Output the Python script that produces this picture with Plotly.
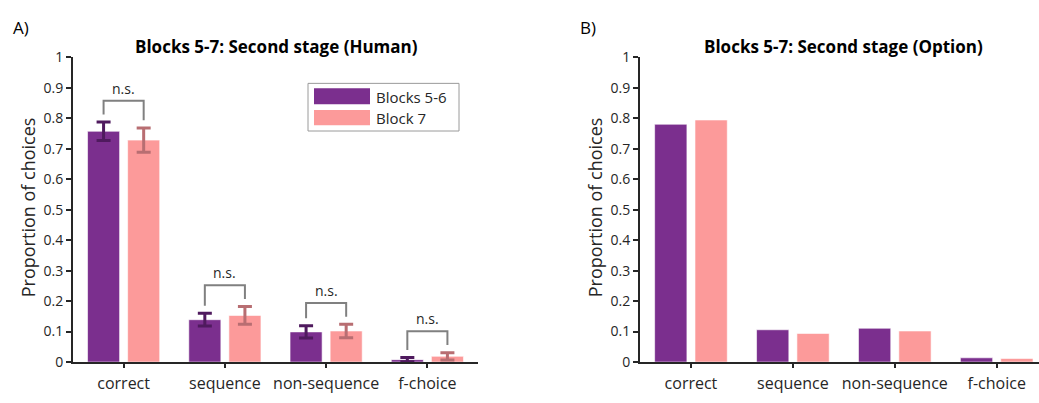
import plotly.graph_objects as go

# ---------------- data ----------------
categories = ["correct", "sequence", "non-sequence", "f-choice"]
series_names = ["Blocks 5-6", "Block 7"]

human_b56 = [0.757, 0.139, 0.099, 0.008]
human_b56_err = [0.030, 0.021, 0.020, 0.007]
human_b7 = [0.728, 0.153, 0.102, 0.019]
human_b7_err = [0.040, 0.029, 0.022, 0.012]

option_b56 = [0.780, 0.106, 0.111, 0.014]
option_b7 = [0.794, 0.094, 0.102, 0.012]

sig_labels = ["n.s.", "n.s.", "n.s.", "n.s."]

y_ticks = [0, 0.1, 0.2, 0.3, 0.4, 0.5, 0.6, 0.7, 0.8, 0.9, 1]
y_ticktext = ["0", "0.1", "0.2", "0.3", "0.4", "0.5", "0.6", "0.7", "0.8", "0.9", "1"]

# ---------------- style ----------------
PURPLE = "#7b2f8e"
PINK = "#fc9a9a"
PURPLE_ERR = "#4f1a5e"
PINK_ERR = "#b86e72"
AX = "#262626"
FONT = "Open Sans"
W, H = 1039, 403

fig = go.Figure()

def add_bars(xaxis, yaxis, v1, v2, e1=None, e2=None):
    for vals, errs, col, ecol, name in [
        (v1, e1, PURPLE, PURPLE_ERR, series_names[0]),
        (v2, e2, PINK, PINK_ERR, series_names[1]),
    ]:
        kw = {}
        if errs is not None:
            kw["error_y"] = dict(type="data", array=errs, visible=True,
                                 color=ecol, thickness=3, width=7)
        fig.add_trace(go.Bar(
            x=categories, y=vals, name=name, xaxis=xaxis, yaxis=yaxis,
            marker=dict(color=col, line=dict(color="rgba(255,255,255,0.6)", width=1)),
            showlegend=False, **kw))

add_bars("x", "y", human_b56, human_b7, human_b56_err, human_b7_err)
add_bars("x2", "y2", option_b56, option_b7)

# significance brackets (left panel)
off = 0.198
shapes = []
annotations = []
for i, lab in enumerate(sig_labels):
    t1 = human_b56[i] + human_b56_err[i]
    t2 = human_b7[i] + human_b7_err[i]
    top = max(t1, t2) + 0.07
    path = (f"M {i-off},{t1+0.025} L {i-off},{top} L {i+off},{top} L {i+off},{t2+0.025}")
    shapes.append(dict(type="path", path=path, xref="x", yref="y",
                       line=dict(color="#808080", width=2)))
    annotations.append(dict(x=i, y=top + 0.004, xref="x", yref="y", text=lab,
                            showarrow=False, yanchor="bottom",
                            font=dict(family=FONT, size=14, color=AX)))

# custom legend
px = lambda v: v / W
py = lambda v: 1 - v / H
shapes.append(dict(type="rect", xref="paper", yref="paper",
                   x0=px(308), x1=px(459), y0=py(127), y1=py(77),
                   line=dict(color="#9a9a9a", width=1), fillcolor="white"))
shapes.append(dict(type="rect", xref="paper", yref="paper",
                   x0=px(314), x1=px(370), y0=py(99), y1=py(82),
                   line=dict(width=0), fillcolor=PURPLE))
shapes.append(dict(type="rect", xref="paper", yref="paper",
                   x0=px(314), x1=px(370), y0=py(121), y1=py(105),
                   line=dict(width=0), fillcolor=PINK))
for name, yc in zip(series_names, [91, 113]):
    annotations.append(dict(x=px(374), y=py(yc), xref="paper", yref="paper",
                            text=name, showarrow=False, xanchor="left", yanchor="middle",
                            font=dict(family=FONT, size=15, color=AX)))

# titles, panel labels, y titles
for txt, xc in [("Blocks 5-7: Second stage (Human)", 276),
                ("Blocks 5-7: Second stage (Option)", 843.5)]:
    annotations.append(dict(x=px(xc), y=py(38), xref="paper", yref="paper", text=f"<b>{txt}</b>",
                            showarrow=False, xanchor="center", yanchor="middle",
                            font=dict(family=FONT, size=17, color="black")))
for txt, xc in [("A)", 21), ("B)", 588)]:
    annotations.append(dict(x=px(xc), y=py(18), xref="paper", yref="paper", text=txt,
                            showarrow=False, xanchor="center", yanchor="middle",
                            font=dict(family=FONT, size=17, color="black")))
for xc in [28, 595]:
    annotations.append(dict(x=px(xc), y=py(207), xref="paper", yref="paper",
                            text="Proportion of choices", textangle=-90,
                            showarrow=False, xanchor="center", yanchor="middle",
                            font=dict(family=FONT, size=18, color=AX)))

ydom = [1 - 369.5 / H, 1 - 49.5 / H]
yax = dict(range=[0, 1], domain=ydom, tickvals=y_ticks, ticktext=y_ticktext,
           showline=True, linecolor=AX, linewidth=2, ticks="outside", ticklen=5,
           tickwidth=1.5, tickcolor=AX, showgrid=False, zeroline=False,
           tickfont=dict(family=FONT, size=14, color=AX))
xax = dict(showline=True, linecolor=AX, linewidth=2, ticks="outside", ticklen=4,
           tickwidth=1.5, tickcolor=AX, showgrid=False, ticklabelstandoff=2,
           tickfont=dict(family=FONT, size=16, color=AX), type="category")

fig.update_layout(
    width=W, height=H, margin=dict(l=0, r=0, t=0, b=0),
    paper_bgcolor="white", plot_bgcolor="white",
    barmode="group", bargap=0.208, bargroupgap=0.2,
    xaxis=dict(xax, domain=[73 / W, 478 / W], range=[-0.5, 3.5], anchor="y"),
    yaxis=dict(yax, anchor="x"),
    xaxis2=dict(xax, domain=[640 / W, 1.0], range=[-0.5, 3.415], anchor="y2"),
    yaxis2=dict(yax, anchor="x2"),
    shapes=shapes, annotations=annotations,
)

fig.write_html("out.html")
